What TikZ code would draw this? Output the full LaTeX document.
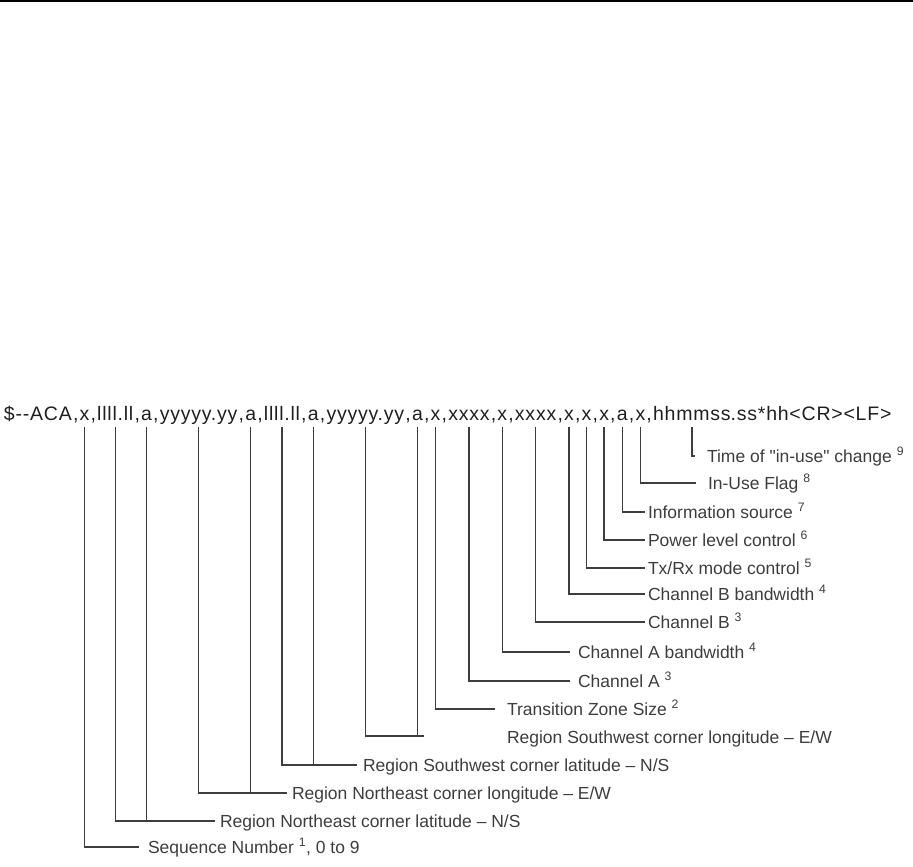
\documentclass[tikz,border=0pt]{standalone}
\usepackage{fontspec}
\setmainfont{Liberation Sans}
\newfontfamily\hdrfont[LetterSpace=4]{Liberation Sans}
\usetikzlibrary{calc}
\definecolor{ink}{gray}{0.24}

\begin{document}
\begin{tikzpicture}[x=1pt, y=-1pt,
    hdr/.style={inner sep=0pt, outer sep=0pt, anchor=base west, text=black!88,
      font=\hdrfont\fontsize{19.5}{21}\selectfont},
    comma/.style={hdr, inner xsep=1.2pt},
    lbl/.style={inner sep=0pt, outer sep=0pt, anchor=west, text=ink,
      text height=12pt, text depth=0pt, font=\fontsize{17.5}{19}\selectfont},
    conn/.style={draw=ink, line width=1.3pt}]
    \useasboundingbox (0,0) rectangle (913,867);
    \draw[line width=2pt] (0,1) -- (913,1);
    % the sentence, one node per field
    \node[hdr] (f1) at (4,420) {\$-{}-ACA};
    \foreach \t [count=\i from 2, remember=\i as \j (initially 1)] in
      {x,llll.ll,a,yyyyy.yy,a,llll.ll,a,yyyyy.yy,a,x,xxxx,x,xxxx,x,x,x,a,x,hhmmss}
    {
      \node[comma] (c\i) at (f\j.base east) {,};
      \node[hdr] (f\i) at (c\i.base east) {\t};
    }
    \node[hdr] (f21) at (f20.base east) {.ss*hh<CR><LF>};
    % field names
    \node[lbl] (time)  at (707,456) {Time of \textquotedbl in-use\textquotedbl\ change \textsuperscript{9}};
    \node[lbl] (inuse) at (708,483) {In-Use Flag \textsuperscript{8}};
    \node[lbl] (info)  at (648,512) {Information source \textsuperscript{7}};
    \node[lbl] (power) at (648,540) {Power level control \textsuperscript{6}};
    \node[lbl] (txrx)  at (648,568) {Tx/Rx mode control \textsuperscript{5}};
    \node[lbl] (chbbw) at (648,594) {Channel B bandwidth \textsuperscript{4}};
    \node[lbl] (chb)   at (648,622) {Channel B \textsuperscript{3}};
    \node[lbl] (chabw) at (578,652) {Channel A bandwidth \textsuperscript{4}};
    \node[lbl] (cha)   at (578,681) {Channel A \textsuperscript{3}};
    \node[lbl] (tz)    at (507,709) {Transition Zone Size \textsuperscript{2}};
    \node[lbl] (swlon) at (507,737) {Region Southwest corner longitude – E/W};
    \node[lbl] (swlat) at (363,765) {Region Southwest corner latitude – N/S};
    \node[lbl] (nelon) at (292,793) {Region Northeast corner longitude – E/W};
    \node[lbl] (nelat) at (220,821) {Region Northeast corner latitude – N/S};
    \node[lbl] (seq)   at (148,847) {Sequence Number \textsuperscript{1}, 0 to 9};
    % single leaders
    \foreach \f/\l/\g in {20/time/12, 19/inuse/12, 18/info/3, 17/power/3, 16/txrx/3,
        15/chbbw/3, 14/chb/3, 13/chabw/8, 12/cha/8, 11/tz/12, 2/seq/9}
      \draw[conn] ($(f\f.base)+(0,7)$) |- ([xshift=-\g pt]\l.west);
    % paired leaders
    \draw[conn] ($(f9.base)+(0,7)$) |- ($(f10.base |- swlon.west)+(7,-1)$);
    \draw[conn] ($(f10.base)+(0,7)$) -- (f10.base |- {$(swlon.west)+(0,-1)$});
    \draw[conn] ($(f7.base)+(0,7)$) |- ([xshift=-6pt]swlat.west);
    \draw[conn] ($(f8.base)+(0,7)$) -- (f8.base |- swlat.west);
    \draw[conn] ($(f5.base)+(0,7)$) |- ([xshift=-5pt]nelon.west);
    \draw[conn] ($(f6.base)+(0,7)$) -- (f6.base |- nelon.west);
    \draw[conn] ($(f3.base)+(0,7)$) |- ([xshift=-5pt]nelat.west);
    \draw[conn] ($(f4.base)+(0,7)$) -- (f4.base |- nelat.west);
\end{tikzpicture}
\end{document}
